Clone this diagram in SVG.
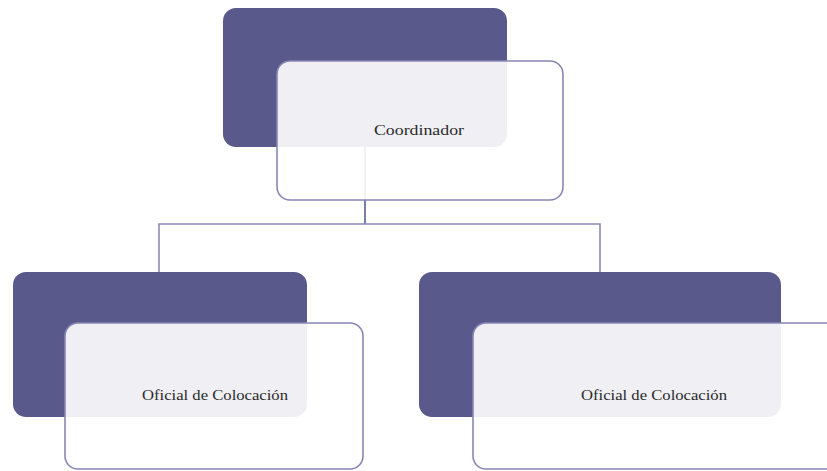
<svg xmlns="http://www.w3.org/2000/svg" width="827" height="471" viewBox="0 0 827 471">
<style>
.back{fill:#5a598c;}
.front{fill:#ffffff;fill-opacity:0.9;stroke:#8886b4;stroke-width:1.6;}
.conn{fill:none;stroke:#8c8bb7;stroke-width:1.6;}
.stem{fill:none;stroke:#5d5c8e;stroke-width:1.6;}
.lbl{font-family:"Liberation Serif","DejaVu Serif",serif;font-size:15px;fill:#2a2a2a;}
</style>
<rect width="827" height="471" fill="#ffffff"/>
<g id="connectors">
<path class="stem" d="M365,147 V224"/>
<path class="conn" d="M159,272 V224 H600 V272"/>
</g>
<g id="node-coordinador">
<rect class="back" x="223" y="8" width="284" height="139" rx="13"/>
<rect class="front" x="277" y="61" width="286" height="139" rx="13"/>
<text class="lbl" x="374" y="135" textLength="90" lengthAdjust="spacingAndGlyphs">Coordinador</text>
</g>
<g id="node-oficial-1">
<rect class="back" x="13" y="272" width="294" height="145" rx="13"/>
<rect class="front" x="65" y="323" width="298" height="146" rx="13"/>
<text class="lbl" x="142" y="400" textLength="146" lengthAdjust="spacingAndGlyphs">Oficial de Colocación</text>
</g>
<g id="node-oficial-2">
<rect class="back" x="419" y="272" width="362" height="145" rx="13"/>
<rect class="front" x="473" y="323" width="370" height="146" rx="13"/>
<text class="lbl" x="581" y="400" textLength="146" lengthAdjust="spacingAndGlyphs">Oficial de Colocación</text>
</g>
</svg>
